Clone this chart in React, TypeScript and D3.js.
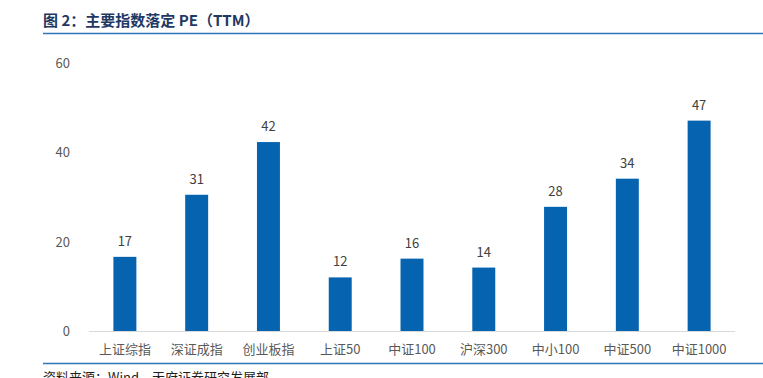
import React from "react";
import * as d3 from "d3";

const categories = ["上证综指", "深证成指", "创业板指", "上证50", "中证100", "沪深300", "中小100", "中证500", "中证1000"];
const peValues = [16.6, 30.5, 42.3, 12.0, 16.2, 14.2, 27.8, 34.1, 47.1];
const yTicks = [0, 20, 40, 60];
const titleText = "图 2：主要指数落定 PE（TTM）";
const sourceText = "资料来源：Wind，天府证券研究发展部";

export default function App() {
  const W = 763, H = 378;
  const x = d3.scaleBand<string>().domain(categories).range([89, 735]).paddingInner(0.68).paddingOuter(0.34);
  const y = d3.scaleLinear().domain([0, 60]).range([331, 63]);
  const font = "'Noto Sans CJK SC', 'Noto Sans', sans-serif";
  return (
    <svg width={W} height={H} style={{ position: "absolute", left: 0, top: 0, background: "#fff" }}>
      <text x={43} y={26} fontFamily={font} fontWeight="bold" fontSize={15} fill="#1F3864">{titleText}</text>
      <line x1={43} x2={763} y1={33.5} y2={33.5} stroke="#2E75B6" strokeWidth={1.3} />
      {yTicks.map(t => (
        <text key={t} x={70} y={y(t) + 5} textAnchor="end" fontFamily={font} fontSize={13} fill="#595959">{t}</text>
      ))}
      <line x1={89} x2={735} y1={y(0) + 0.5} y2={y(0) + 0.5} stroke="#D9D9D9" strokeWidth={1} />
      {categories.map((c, i) => (
        <g key={c}>
          <rect x={x(c)} y={y(peValues[i])} width={x.bandwidth()} height={y(0) - y(peValues[i])} fill="#0563AF" />
          <text x={x(c)! + x.bandwidth() / 2} y={y(peValues[i]) - 11} textAnchor="middle" fontFamily={font} fontSize={13} fill="#404040">{d3.format(".0f")(peValues[i])}</text>
          <text x={x(c)! + x.bandwidth() / 2} y={354} textAnchor="middle" fontFamily={font} fontSize={13} fill="#595959">{c}</text>
        </g>
      ))}
      <line x1={43} x2={763} y1={363.5} y2={363.5} stroke="#2E75B6" strokeWidth={1.3} />
      <text x={43} y={382} fontFamily={font} fontSize={13} fill="#1F1F1F">{sourceText}</text>
    </svg>
  );
}
